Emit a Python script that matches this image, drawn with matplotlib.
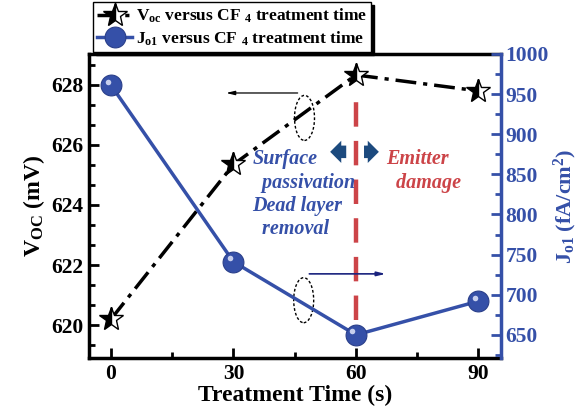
import numpy as np
import matplotlib
matplotlib.use("Agg")
import matplotlib.pyplot as plt
from matplotlib.patches import Ellipse
from matplotlib.ticker import MultipleLocator
from matplotlib.transforms import ScaledTranslation

plt.rcParams['font.family'] = 'Liberation Serif'
plt.rcParams['font.weight'] = 'bold'
plt.rcParams['axes.labelweight'] = 'bold'
plt.rcParams['mathtext.fontset'] = 'custom'
plt.rcParams['mathtext.rm'] = 'Liberation Serif:bold'
plt.rcParams['mathtext.bf'] = 'Liberation Serif:bold'
plt.rcParams['mathtext.it'] = 'Liberation Serif:bold:italic'
plt.rcParams['mathtext.default'] = 'bf'

# data
time = [0, 30, 60, 90]
voc = [620.2, 625.35, 628.33, 627.8]     # mV
jo1 = [961, 741, 650, 692]               # fA/cm2

xticks = [0, 30, 60, 90]
voc_ticks = [620, 622, 624, 626, 628]
jo1_ticks = [650, 700, 750, 800, 850, 900, 950, 1000]

blue = '#3550a8'
red = '#cc4448'
navy = '#1c4a7e'

fig = plt.figure(figsize=(5.79, 4.15), dpi=100)
ax = fig.add_axes([0.1537, 0.137, 0.712, 0.733])
ax2 = ax.twinx()

# Voc
l1, = ax.plot(time, voc, color='k', lw=2.5, linestyle=(0, (6, 2, 1.2, 2)),
              marker='*', markersize=18, fillstyle='left', markerfacecolor='k',
              markerfacecoloralt='white', markeredgecolor='k', markeredgewidth=1,
              label=r'V$_{oc}$ versus CF $_4$ treatment time', zorder=4)

# Jo1 with "sphere" markers
l2, = ax2.plot(time, jo1, color=blue, lw=2.5, marker='o', markersize=15,
               markerfacecolor=blue, markeredgecolor='#2a3f8a', markeredgewidth=0.8,
               label=r'J$_{o1}$ versus CF $_4$ treatment time', zorder=4)
hl = ScaledTranslation(-2.5 / 72, 2.5 / 72, fig.dpi_scale_trans)
ax2.plot(time, jo1, linestyle='none', marker='o', markersize=4,
         markerfacecolor='#d8def5', markeredgecolor='none', alpha=0.9,
         transform=ax2.transData + hl, zorder=5)

ax.set_xlim(-5.4, 95.6)
ax.set_ylim(618.9, 629.03)
ax2.set_ylim(621, 1000)

ax.set_xticks(xticks)
ax.xaxis.set_minor_locator(MultipleLocator(15))
ax.set_yticks(voc_ticks)
ax.yaxis.set_minor_locator(MultipleLocator(2 / 3))
ax2.set_yticks(jo1_ticks)
ax2.yaxis.set_minor_locator(MultipleLocator(25))

ax.tick_params(which='both', direction='in', width=2, labelsize=15.5, pad=4)
ax.tick_params(which='major', length=7)
ax.tick_params(which='minor', length=4)
ax.tick_params(axis='y', which='both', right=False)
ax2.tick_params(which='both', direction='in', width=2, colors=blue, labelsize=15.5, pad=3)
ax2.tick_params(which='major', length=7)
ax2.tick_params(which='minor', length=4)

for s in ['left', 'bottom', 'top']:
    ax.spines[s].set_linewidth(2.5)
ax.spines['right'].set_visible(False)
for s in ['left', 'bottom', 'top']:
    ax2.spines[s].set_visible(False)
ax2.spines['right'].set_linewidth(2.5)
ax2.spines['right'].set_color(blue)

ax.set_xlabel('Treatment Time (s)', fontsize=17, labelpad=1)
ax.set_ylabel(r'V$_{OC}$ (mV)', fontsize=17, labelpad=3)
ax2.set_ylabel(r'J$_{o1}$ (fA/cm$^{2}$)', fontsize=16, color=blue, labelpad=2)

# divider line at 60 s
ax.axvline(60, ymin=0.125, ymax=0.88, color=red, lw=3.2,
           linestyle=(0, (5.5, 3.2)), zorder=3)

# block arrows
arr = 'simple,head_width=1.6,head_length=0.8,tail_width=0.9'
ax.annotate('', xy=(53.0, 625.77), xytext=(58.3, 625.77),
            arrowprops=dict(arrowstyle=arr, color=navy, lw=0))
ax.annotate('', xy=(66.3, 625.77), xytext=(61.3, 625.77),
            arrowprops=dict(arrowstyle=arr, color=navy, lw=0))

ax.text(34.6, 625.85, 'Surface\n  passivation\nDead layer\n  removal', color=blue,
        fontsize=14.5, style='italic', fontweight='bold', va='top', ha='left',
        linespacing=1.22)
ax.text(67.3, 625.85, 'Emitter\n  damage', color=red, fontsize=14.5, style='italic',
        fontweight='bold', va='top', ha='left', linespacing=1.22)

# axis indicators
ax.annotate('', xy=(27.5, 627.73), xytext=(46.4, 627.73),
            arrowprops=dict(arrowstyle='-|>,head_width=0.12,head_length=0.5', color='k', lw=0.9))
ax.add_patch(Ellipse((47.4, 626.9), 4.9, 1.5, fill=False, ls=(0, (2, 1.5)), lw=1, color='k'))
ax2.annotate('', xy=(68, 726), xytext=(47.9, 726),
             arrowprops=dict(arrowstyle='-|>,head_width=0.12,head_length=0.5', color='#1a237e', lw=1.2))
ax.add_patch(Ellipse((47.2, 620.83), 4.9, 1.5, fill=False, ls=(0, (2, 1.5)), lw=1, color='k'))

leg = ax2.legend(handles=[l1, l2], loc='upper left', bbox_to_anchor=(0.01, 1.17),
                 fontsize=12.5, frameon=True, fancybox=False, shadow={'color': 'k', 'alpha': 1},
                 handlelength=2.0, handletextpad=0.2, borderpad=0.25, labelspacing=0.25,
                 borderaxespad=0)
leg.get_frame().set_edgecolor('k')
leg.get_frame().set_linewidth(1)
leg.set_zorder(10)

fig.savefig('out.png', dpi=100)
